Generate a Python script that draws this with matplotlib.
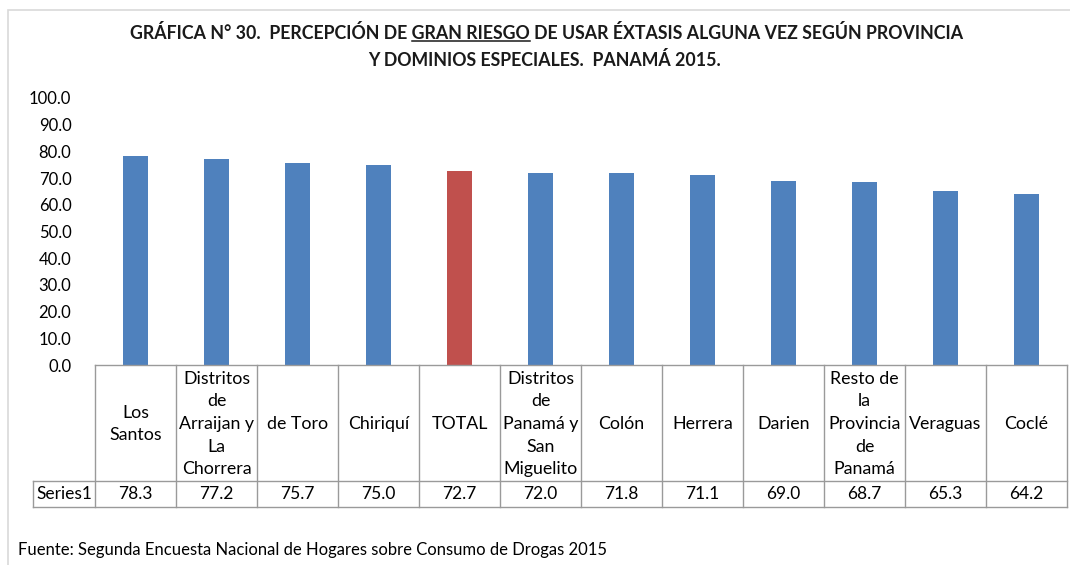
import matplotlib
matplotlib.use('Agg')
import matplotlib.pyplot as plt
from matplotlib.lines import Line2D
from matplotlib.patches import Rectangle

plt.rcParams['font.family'] = ['Lato', 'DejaVu Sans']

# data
categories = ['Los\nSantos', 'Distritos\nde\nArraijan y\nLa\nChorrera', 'de Toro', 'Chiriquí', 'TOTAL',
              'Distritos\nde\nPanamá y\nSan\nMiguelito', 'Colón', 'Herrera', 'Darien',
              'Resto de\nla\nProvincia\nde\nPanamá', 'Veraguas', 'Coclé']
values = [78.3, 77.2, 75.7, 75.0, 72.7, 72.0, 71.8, 71.1, 69.0, 68.7, 65.3, 64.2]
series_name = 'Series1'
yticks = [0, 10, 20, 30, 40, 50, 60, 70, 80, 90, 100]

W, H = 1070, 565
BLUE = '#4F81BD'
RED = '#C0504D'
GRID = '#9A9A9A'

def fx(px):
    return px / W

def fy(py):
    return 1 - py / H

fig = plt.figure(figsize=(W / 100, H / 100), dpi=100)

# outer chart border
fig.patches.append(Rectangle((fx(8), fy(575)), fx(1080) - fx(8), fy(10) - fy(575),
                             transform=fig.transFigure, fill=False, edgecolor='#D9D9D9', lw=1.2))

# main plot area
left, right, top, base = 95, 1067, 98, 365
ax = fig.add_axes([fx(left), fy(base), fx(right) - fx(left), fy(top) - fy(base)])
colors = [RED if c == 'TOTAL' else BLUE for c in categories]
x = list(range(len(categories)))
ax.bar(x, values, width=0.31, color=colors)
ax.set_xlim(-0.5, len(categories) - 0.5)
ax.set_ylim(0, 100)
ax.set_yticks(yticks)
ax.set_yticklabels([f'{v:.1f}' for v in yticks], fontsize=12)
ax.set_xticks([])
ax.tick_params(axis='y', length=0, pad=17)
for s in ax.spines.values():
    s.set_visible(False)

# data table under the plot
tab_left, tab_bottom = 33, 507
row_split = 481
unit = (right - left) / len(categories)
tx0 = -0.5 - (left - tab_left) / unit
tab = fig.add_axes([fx(tab_left), fy(tab_bottom), fx(right) - fx(tab_left), fy(base) - fy(tab_bottom)])
tab.set_xlim(tx0, len(categories) - 0.5)
tab.set_ylim(tab_bottom - base, 0)
tab.axis('off')
hsplit = row_split - base
hbot = tab_bottom - base
lkw = dict(color=GRID, lw=1.0, clip_on=False)
tab.plot([-0.5, len(categories) - 0.5], [0, 0], **lkw)
tab.plot([tx0, len(categories) - 0.5], [hsplit, hsplit], **lkw)
tab.plot([tx0, len(categories) - 0.5], [hbot, hbot], **lkw)
tab.plot([tx0, tx0], [hsplit, hbot], **lkw)
for i in range(len(categories) + 1):
    tab.plot([i - 0.5, i - 0.5], [0, hbot], **lkw)
for i, (c, v) in enumerate(zip(categories, values)):
    tab.text(i, hsplit / 2 + 1, c, ha='center', va='center', fontsize=12.8, linespacing=1.5)
    tab.text(i, (hsplit + hbot) / 2, f'{v:.1f}', ha='center', va='center', fontsize=12.5)
tab.text((tx0 - 0.5) / 2, (hsplit + hbot) / 2, series_name, ha='center', va='center', fontsize=12.5)

# title, with "GRAN RIESGO" underlined
pre = 'GRÁFICA N° 30.  PERCEPCIÓN DE '
mid = 'GRAN RIESGO'
post = ' DE USAR ÉXTASIS ALGUNA VEZ SEGÚN PROVINCIA'
tkw = dict(fontsize=12.8, fontweight='bold', color='#1a1a1a')
t1 = fig.text(fx(547), fy(33), pre + mid + post, ha='center', va='center', **tkw)
fig.text(fx(545), fy(60), 'Y DOMINIOS ESPECIALES.  PANAMÁ 2015.', ha='center', va='center', **tkw)

fig.canvas.draw()
r = fig.canvas.get_renderer()
bb = t1.get_window_extent(r)

def text_w(s):
    t = fig.text(0, 0, s, **tkw)
    w = t.get_window_extent(r).width
    t.remove()
    return w

x0 = bb.x0 + text_w(pre)
x1 = x0 + text_w(mid)
yl = bb.y0 + 1
fig.add_artist(Line2D([x0 / fig.bbox.width, x1 / fig.bbox.width],
                      [yl / fig.bbox.height, yl / fig.bbox.height],
                      transform=fig.transFigure, color='#1a1a1a', lw=1.1))

fig.text(fx(18), fy(550), 'Fuente: Segunda Encuesta Nacional de Hogares sobre Consumo de Drogas 2015',
         ha='left', va='center', fontsize=12)

fig.savefig('out.png', dpi=100)
